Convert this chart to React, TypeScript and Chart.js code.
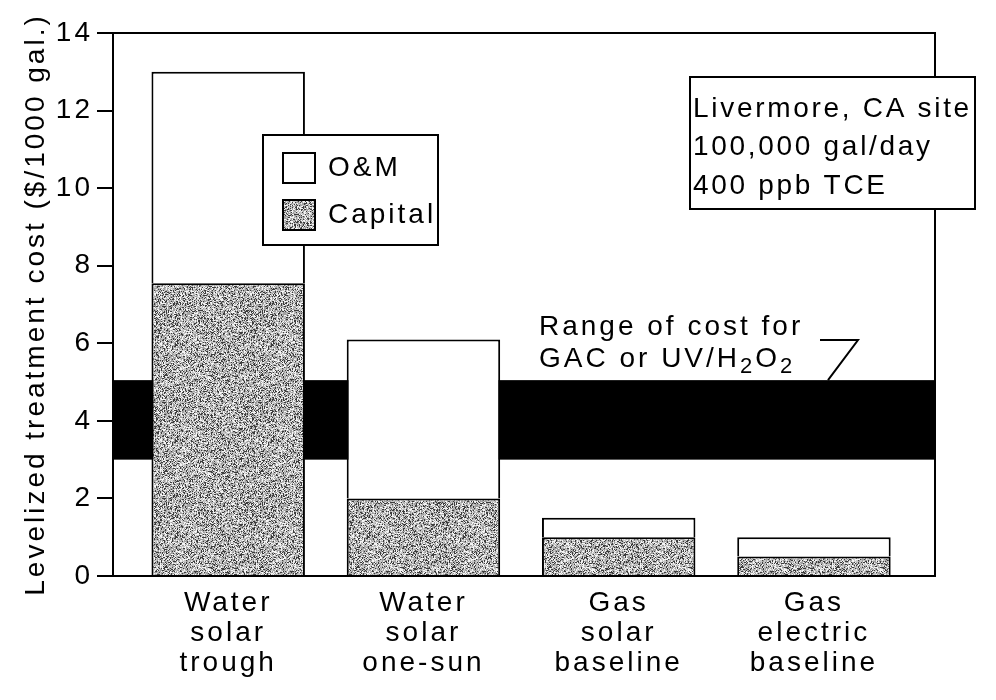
import React, { useEffect, useRef } from 'react';
import { Chart, registerables } from 'chart.js';

Chart.register(...registerables);

// ---- data ----
const categories: string[][] = [
  ['Water', 'solar', 'trough'],
  ['Water', 'solar', 'one-sun'],
  ['Gas', 'solar', 'baseline'],
  ['Gas', 'electric', 'baseline'],
];
const capitalCost = [7.55, 2.0, 1.0, 0.5];
const omCost = [5.45, 4.1, 0.5, 0.5];
const gacRange = [3.0, 5.05];
const seriesLabels = ['O&M', 'Capital'];
const siteNotes = ['Livermore, CA site', '100,000 gal/day', '400 ppb TCE'];
const rangeNote = 'Range of cost for';
const yTitle = 'Levelized treatment cost ($/1000 gal.)';

const FAMILY = "'Liberation Sans', Arial, sans-serif";
const FS = 28;

function makeStipple(): CanvasPattern | string {
  const size = 96;
  const c = document.createElement('canvas');
  c.width = size;
  c.height = size;
  const g = c.getContext('2d');
  if (!g) return '#999';
  const img = g.createImageData(size, size);
  for (let y = 0; y < size; y++) {
    for (let x = 0; x < size; x++) {
      let h = (Math.imul(x, 374761393) + Math.imul(y, 668265263)) >>> 0;
      h = Math.imul(h ^ (h >>> 13), 1274126177) >>> 0;
      h = (h ^ (h >>> 16)) >>> 0;
      const r = h & 255;
      const v = r < 55 ? 60 : r < 130 ? 160 : r < 200 ? 200 : 245;
      const i = (y * size + x) * 4;
      img.data[i] = v;
      img.data[i + 1] = v;
      img.data[i + 2] = v;
      img.data[i + 3] = 255;
    }
  }
  g.putImageData(img, 0, 0);
  const p = g.createPattern(c, 'repeat');
  return p || '#999';
}

export default function App() {
  const ref = useRef<HTMLCanvasElement>(null);

  useEffect(() => {
    document.body.style.margin = '0';
    const canvas = ref.current;
    if (!canvas) return;
    const stipple = makeStipple();

    const spacingPlugin = {
      id: 'spacing',
      beforeDraw(chart: any) {
        (chart.ctx as any).letterSpacing = '3px';
      },
    };

    const bandPlugin = {
      id: 'band',
      beforeDatasetsDraw(chart: any) {
        const { ctx, chartArea, scales } = chart;
        const y1 = scales.y.getPixelForValue(gacRange[1]);
        const y0 = scales.y.getPixelForValue(gacRange[0]);
        ctx.save();
        ctx.fillStyle = '#000';
        ctx.fillRect(chartArea.left, y1, chartArea.right - chartArea.left, y0 - y1);
        ctx.restore();
      },
    };

    const decorPlugin = {
      id: 'decor',
      afterDatasetsDraw(chart: any) {
        const { ctx, chartArea, scales } = chart;
        ctx.save();
        ctx.strokeStyle = '#000';
        ctx.lineWidth = 2;
        // frame
        ctx.strokeRect(chartArea.left, chartArea.top, chartArea.right - chartArea.left, chartArea.bottom - chartArea.top);

        ctx.textAlign = 'left';
        ctx.textBaseline = 'alphabetic';

        // legend box
        ctx.fillStyle = '#fff';
        ctx.fillRect(263, 135, 175, 110);
        ctx.strokeRect(263, 135, 175, 110);
        const ds = chart.data.datasets;
        const om = ds[1];
        const cap = ds[0];
        ctx.fillStyle = om.backgroundColor;
        ctx.fillRect(283, 153, 32, 30);
        ctx.strokeRect(283, 153, 32, 30);
        ctx.fillStyle = cap.backgroundColor;
        ctx.fillRect(283, 200, 32, 30);
        ctx.strokeRect(283, 200, 32, 30);
        ctx.fillStyle = '#000';
        ctx.font = `${FS}px ${FAMILY}`;
        ctx.fillText(om.label, 328, 176);
        ctx.fillText(cap.label, 328, 223);

        // site note box
        ctx.fillStyle = '#fff';
        ctx.fillRect(690, 77, 285, 132);
        ctx.strokeRect(690, 77, 285, 132);
        ctx.fillStyle = '#000';
        ctx.letterSpacing = '2.7px';
        const baselines = [117, 155, 194];
        siteNotes.forEach((t, i) => ctx.fillText(t, 693, baselines[i]));
        ctx.letterSpacing = '3px';

        // range annotation
        ctx.fillText(rangeNote, 539, 335);
        let x = 539;
        const parts: [string, number, number][] = [
          ['GAC or UV/H', FS, 0],
          ['2', 22, 6],
          ['O', FS, 0],
          ['2', 22, 6],
        ];
        for (const [t, s, dy] of parts) {
          ctx.font = `${s}px ${FAMILY}`;
          ctx.fillText(t, x, 367 + dy);
          x += ctx.measureText(t).width;
        }
        const yTop = scales.y.getPixelForValue(gacRange[1]);
        ctx.beginPath();
        ctx.moveTo(820, 340);
        ctx.lineTo(858, 340);
        ctx.lineTo(828, yTop);
        ctx.stroke();
        ctx.restore();
      },
    };

    const chart = new Chart(canvas, {
      type: 'bar',
      data: {
        datasets: [
          {
            label: seriesLabels[1],
            data: capitalCost.map((v, i) => ({ x: i, y: v })),
            backgroundColor: stipple as any,
            borderColor: '#000',
            borderWidth: 2,
          },
          {
            label: seriesLabels[0],
            data: omCost.map((v, i) => ({ x: i, y: v })),
            backgroundColor: '#fff',
            borderColor: '#000',
            borderWidth: 2,
          },
        ],
      },
      options: {
        responsive: false,
        animation: false,
        events: [],
        layout: { padding: { top: 33, right: 61, left: 0, bottom: 0 } },
        datasets: { bar: { barPercentage: 0.786, categoryPercentage: 1 } } as any,
        plugins: { legend: { display: false }, tooltip: { enabled: false } },
        scales: {
          x: {
            type: 'linear',
            min: -0.59,
            max: 3.62,
            offset: false,
            stacked: true,
            afterBuildTicks: (axis: any) => {
              axis.ticks = categories.map((_, i) => ({ value: i }));
            },
            afterFit: (s: any) => {
              s.height = 124;
            },
            grid: { display: false, drawTicks: false, offset: false },
            border: { display: true, color: '#000', width: 2 },
            ticks: {
              callback: (v: any) => categories[v] ?? '',
              font: { size: FS, family: FAMILY, lineHeight: 1.07 },
              padding: 12,
              maxRotation: 0,
              autoSkip: false,
              color: '#000',
            },
          },
          y: {
            min: 0,
            max: 14,
            stacked: true,
            afterFit: (s: any) => {
              s.width = 113;
            },
            ticks: { stepSize: 2, font: { size: FS, family: FAMILY }, padding: 4, color: '#000' },
            grid: { drawOnChartArea: false, drawTicks: true, tickLength: 16, color: '#000', lineWidth: 2 },
            border: { display: true, color: '#000', width: 2 },
            title: {
              display: true,
              text: yTitle,
              font: { size: FS, family: FAMILY },
              padding: { top: 19, bottom: 0 },
              color: '#000',
            },
          },
        },
      } as any,
      plugins: [spacingPlugin, bandPlugin, decorPlugin],
    });
    return () => chart.destroy();
  }, []);

  return (
    <div style={{ width: 996, height: 700 }}>
      <canvas ref={ref} width={996} height={700} style={{ display: 'block' }} />
    </div>
  );
}
